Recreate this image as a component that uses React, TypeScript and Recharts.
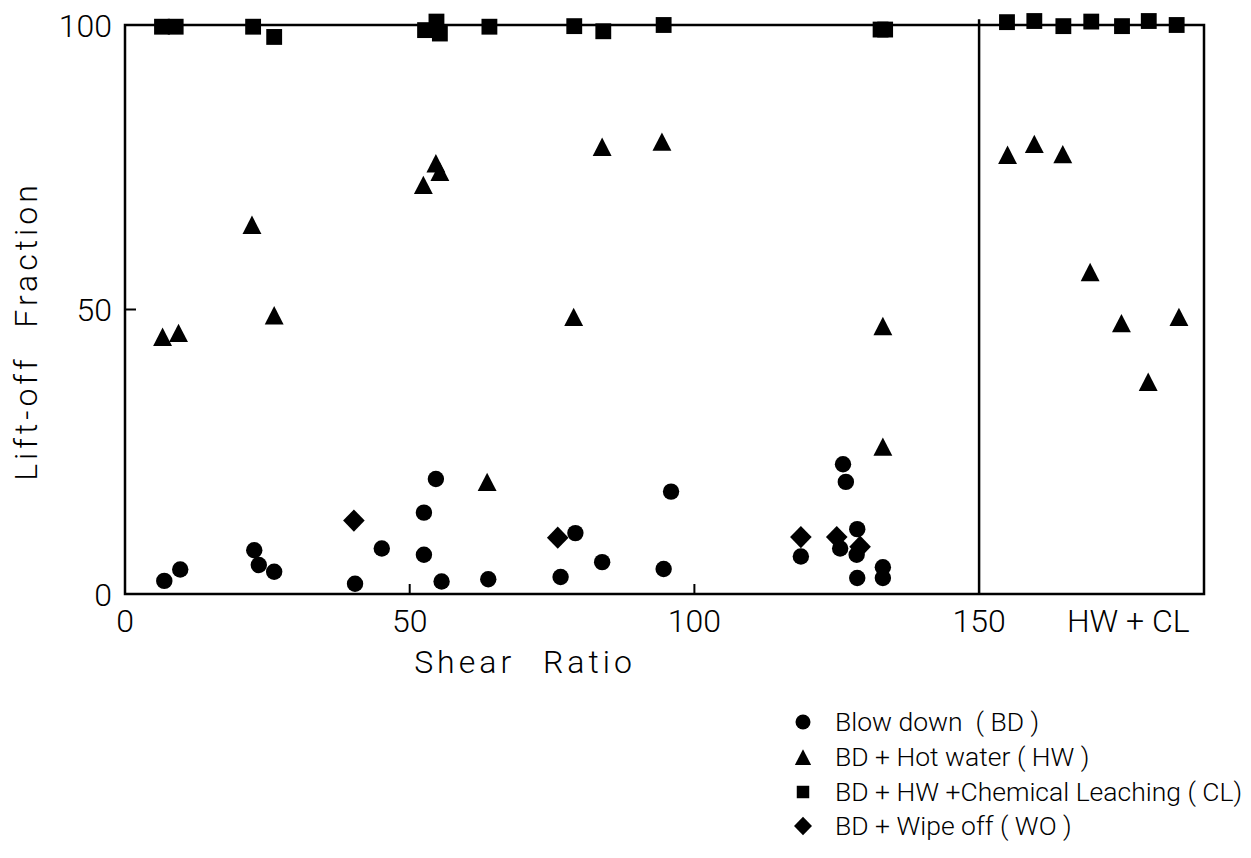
import React from 'react';
import { ScatterChart, Scatter, XAxis, YAxis, ReferenceLine, ReferenceArea, Legend } from 'recharts';

const FONT = "Roboto, 'Liberation Sans', sans-serif";

// Blow down (BD) - circles
const bdX = [6.9, 9.7, 22.7, 23.5, 26.2, 40.4, 45.1, 52.5, 52.5, 54.6, 55.6, 63.8, 76.5, 79.1, 83.8, 94.6, 95.9, 118.7, 125.6, 126.1, 126.6, 128.6, 128.5, 128.6, 133.1, 133.1];
const bdY = [2.3, 4.3, 7.7, 5.1, 3.9, 1.8, 8.0, 14.3, 6.9, 20.2, 2.2, 2.6, 3.0, 10.7, 5.6, 4.4, 18.0, 6.6, 8.0, 22.8, 19.7, 11.4, 6.9, 2.8, 4.7, 2.8];

// BD + Hot water (HW) - triangles
const hwX = [6.6, 9.4, 22.3, 26.2, 52.4, 54.6, 55.3, 63.6, 78.8, 83.8, 94.3, 133.1, 133.1, 155.0, 159.7, 164.7, 169.5, 175.0, 179.7, 185.1];
const hwY = [45.2, 45.9, 64.9, 49.0, 71.9, 75.7, 74.2, 19.7, 48.7, 78.6, 79.5, 47.1, 25.9, 77.2, 79.1, 77.3, 56.6, 47.6, 37.3, 48.7];

// BD + HW + Chemical Leaching (CL) - squares
const clX = [6.5, 8.9, 22.5, 26.2, 52.7, 54.7, 55.3, 64.0, 78.9, 84.0, 94.6, 132.7, 133.5, 154.9, 159.7, 164.8, 169.7, 175.1, 179.8, 184.7];
const clY = [99.7, 99.7, 99.7, 97.9, 99.1, 100.6, 98.5, 99.7, 99.8, 98.9, 100.0, 99.2, 99.2, 100.5, 100.7, 99.8, 100.6, 99.8, 100.7, 100.0];

// BD + Wipe off (WO) - diamonds
const woX = [40.2, 76.0, 118.7, 125.0, 129.1];
const woY = [12.9, 9.9, 10.0, 10.0, 8.3];

const xTicks = [0, 50, 100, 150, 176.2];
const xTickLabels = ['0', '50', '100', '150', 'HW + CL'];
const xInnerTicks = [50, 100];
const yTicks = [0, 50, 100];
const yTickLabels = ['0', '50', '100'];
const yInnerTicks = [50];
const X_MAX = 189.5;
const Y_TOP = 100;
const Y_DOMAIN_MAX = 101;
const DIVIDER_X = 150;

const legendNames = ['Blow down  ( BD )', 'BD + Hot water ( HW )', 'BD + HW +Chemical Leaching ( CL)', 'BD + Wipe off ( WO )'];
const legendShapes = ['circle', 'triangle', 'square', 'diamond'];

const toPoints = (xs: number[], ys: number[]) => xs.map((x, i) => ({ x, y: ys[i] }));

const drawMarker = (kind: string, cx: number, cy: number, s: number) => {
  if (kind === 'circle') return <circle cx={cx} cy={cy} r={s * 0.5} fill="#000" />;
  if (kind === 'square') return <rect x={cx - s * 0.48} y={cy - s * 0.48} width={s * 0.96} height={s * 0.96} fill="#000" />;
  if (kind === 'triangle') {
    const h = s * 1.05;
    return <polygon points={`${cx},${cy - h / 2} ${cx + s * 0.54},${cy + h / 2} ${cx - s * 0.54},${cy + h / 2}`} fill="#000" />;
  }
  return <polygon points={`${cx},${cy - s * 0.62} ${cx + s * 0.6},${cy} ${cx},${cy + s * 0.62} ${cx - s * 0.6},${cy}`} fill="#000" />;
};

const makeShape = (kind: string, s: number) => (p: any) => <g>{drawMarker(kind, p.cx, p.cy, s)}</g>;

const XTick = (p: any) => {
  const v = p.payload.value;
  const i = xTicks.indexOf(v);
  return (
    <g>
      {xInnerTicks.includes(v) && <line x1={p.x} y1={p.y} x2={p.x} y2={p.y - 10} stroke="#000" strokeWidth={2} />}
      <text x={p.x} y={p.y + 38} textAnchor="middle" fontFamily={FONT} fontWeight={300} fontSize={32} fill="#000">
        {i >= 0 ? xTickLabels[i] : v}
      </text>
    </g>
  );
};

const YTick = (p: any) => {
  const v = p.payload.value;
  const i = yTicks.indexOf(v);
  return (
    <g>
      {yInnerTicks.includes(v) && <line x1={p.x} y1={p.y} x2={p.x + 11} y2={p.y} stroke="#000" strokeWidth={2} />}
      <text x={p.x - 13} y={p.y + 11.5} textAnchor="end" fontFamily={FONT} fontWeight={300} fontSize={32} fill="#000">
        {i >= 0 ? yTickLabels[i] : v}
      </text>
    </g>
  );
};

const XTitle = (p: any) => {
  const vb = p.viewBox;
  return (
    <text x={vb.x + 400} y={vb.y + 79} textAnchor="middle" fontFamily={FONT} fontWeight={300} fontSize={32}
      letterSpacing={4} wordSpacing={16} fill="#000">
      Shear Ratio
    </text>
  );
};

const YTitle = (p: any) => {
  const vb = p.viewBox;
  const cx = vb.x + 12;
  const cy = 323;
  return (
    <text x={cx} y={cy} transform={`rotate(-90, ${cx}, ${cy})`} textAnchor="middle" fontFamily={FONT} fontWeight={300}
      fontSize={32} letterSpacing={4} wordSpacing={16} fill="#000">
      Lift-off Fraction
    </text>
  );
};

const renderLegend = () => (
  <div style={{ fontFamily: FONT, fontWeight: 300, fontSize: 26.5, color: '#000', letterSpacing: 0 }}>
    {legendNames.map((name, i) => (
      <div key={name} style={{ display: 'flex', alignItems: 'center', height: 34.7 }}>
        <svg width={51} height={34} style={{ flex: 'none' }}>
          {drawMarker(legendShapes[i], 19, 17, legendShapes[i] === 'square' ? 13 : 15)}
        </svg>
        <span style={{ whiteSpace: 'pre', lineHeight: '34px' }}>{name}</span>
      </div>
    ))}
  </div>
);

export default function App() {
  return (
    <div style={{ width: 1243, height: 850, background: '#fff' }}>
      <ScatterChart width={1243} height={850} margin={{ top: 11.31, right: 47, bottom: 184, left: 17 }}>
        <XAxis type="number" dataKey="x" domain={[0, X_MAX]} ticks={xTicks} interval={0} height={80}
          tickSize={0} tickMargin={0} tickLine={false} axisLine={false}
          tick={(p: any) => <XTick {...p} />} label={(p: any) => <XTitle {...p} />} />
        <YAxis type="number" dataKey="y" domain={[0, Y_DOMAIN_MAX]} ticks={yTicks} interval={0} width={100}
          tickSize={0} tickMargin={0} tickLine={false} axisLine={false}
          tick={(p: any) => <YTick {...p} />} label={(p: any) => <YTitle {...p} />} />
        <ReferenceArea x1={0} x2={X_MAX} y1={0} y2={Y_TOP} fill="none" fillOpacity={0} stroke="#000" strokeWidth={2.5} />
        <ReferenceLine x={DIVIDER_X} stroke="#000" strokeWidth={2.5} />
        <Legend layout="vertical" align="center" verticalAlign="middle" content={renderLegend}
          wrapperStyle={{ left: 776, top: 697, width: 467 }} />
        <Scatter name="Blow down (BD)" data={toPoints(bdX, bdY)} shape={makeShape('circle', 16.4)} isAnimationActive={false} />
        <Scatter name="BD + Hot water (HW)" data={toPoints(hwX, hwY)} shape={makeShape('triangle', 17.5)} isAnimationActive={false} />
        <Scatter name="BD + HW + Chemical Leaching (CL)" data={toPoints(clX, clY)} shape={makeShape('square', 16.5)} isAnimationActive={false} />
        <Scatter name="BD + Wipe off (WO)" data={toPoints(woX, woY)} shape={makeShape('diamond', 18)} isAnimationActive={false} />
      </ScatterChart>
    </div>
  );
}
